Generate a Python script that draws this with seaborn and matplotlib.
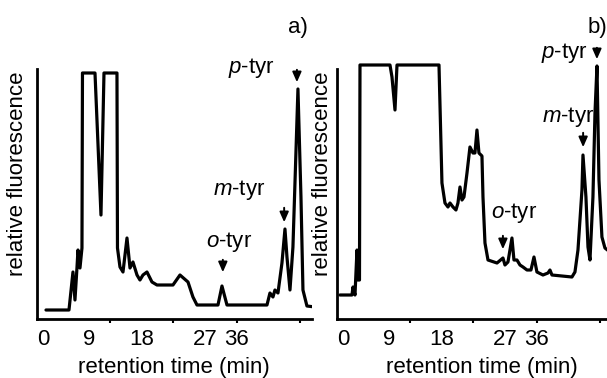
import numpy as np
import pandas as pd
import matplotlib
matplotlib.use("Agg")
import matplotlib.pyplot as plt
import seaborn as sns

# ---- data (time in min, relative fluorescence 0-100) ----
t_a = [0.59, 5.09, 5.87, 6.26, 6.65, 6.85, 7.24, 7.63, 7.73, 10.18, 11.35, 11.94, 14.48,
       14.58, 15.07, 15.66, 16.44, 17.03, 17.61, 18.40, 18.98, 19.57, 20.35, 21.33, 22.31,
       25.44, 26.81, 28.38, 29.35, 30.14, 34.25, 35.03, 36.01, 43.84, 44.42, 45.01, 45.40,
       45.99, 46.77, 47.36, 47.75, 48.34, 48.92, 49.90, 50.49, 50.88, 51.66, 53.23]
f_a = [3.6, 3.6, 18.8, 7.6, 20.4, 27.6, 20.4, 28.4, 98.4, 98.4, 41.6, 98.4, 98.4,
       28.4, 20.8, 18.8, 32.4, 20.4, 22.8, 17.6, 15.6, 17.6, 18.8, 14.8, 13.6,
       13.6, 17.6, 14.8, 8.8, 5.6, 5.6, 13.2, 5.6, 5.6, 10.4, 8.8, 11.6,
       10.4, 22.4, 36.0, 24.8, 11.6, 28.8, 92.0, 48.8, 11.6, 5.2, 4.8]

t_b = [-0.59, 1.76, 1.96, 2.35, 2.74, 2.94, 3.23, 3.33, 9.20, 9.59, 10.18, 10.57, 18.79,
       19.37, 19.96, 20.55, 20.94, 21.53, 22.11, 22.50, 22.90, 23.29, 23.68, 24.27, 24.85,
       25.44, 25.83, 26.22, 26.61, 27.20, 27.40, 27.79, 28.38, 30.14, 31.31, 31.70, 32.29,
       33.07, 33.46, 34.05, 34.64, 35.23, 36.01, 36.79, 37.38, 37.96, 39.14, 40.12, 40.51,
       40.90, 44.81, 45.40, 45.99, 46.77, 46.97, 47.55, 47.95, 48.34, 48.92, 49.32, 49.71,
       50.10, 50.68, 51.27, 52.25]
f_b = [9.6, 9.6, 12.8, 9.6, 27.6, 15.6, 15.6, 101.6, 101.6, 96.8, 83.6, 101.6, 101.6,
       54.4, 46.4, 44.8, 46.4, 44.8, 43.6, 46.4, 52.8, 47.6, 48.8, 58.4, 68.8,
       66.4, 66.4, 75.6, 66.4, 65.2, 48.8, 30.4, 23.6, 22.4, 24.4, 21.6, 22.8,
       32.4, 23.6, 23.6, 21.6, 20.8, 19.6, 19.6, 24.8, 18.8, 17.6, 18.4, 19.6,
       17.6, 16.8, 18.8, 27.6, 51.6, 65.6, 48.8, 28.8, 23.6, 48.8, 82.4, 101.2,
       55.6, 32.8, 28.4, 26.8]

tick_labels = ["0", "9", "18", "27", "36"]
tick_pos = [0, 9.0, 19.37, 31.7, 37.96]
minor_pos = [13.1, 25.4, 38.0, 50.3]

peak_names = ["$o$-tyr", "$m$-tyr", "$p$-tyr"]
# arrow x, tail y, tip y ; label x, label y
arrows_a = [(35.2, 24.8, 17.6), (47.2, 45.6, 37.6), (49.7, 100.8, 93.6)]
labels_a = [(36.4, 30.8), (38.4, 51.6), (40.7, 100.4)]
arrows_b = [(31.3, 34.4, 26.8), (47.0, 75.6, 67.6), (49.7, 109.6, 102.8)]
labels_b = [(33.5, 42.4), (44.0, 80.8), (43.4, 106.4)]

sns.set_theme(style="white")
plt.rcParams["font.family"] = ["Liberation Sans", "DejaVu Sans"]
plt.rcParams["mathtext.fontset"] = "custom"
plt.rcParams["mathtext.it"] = "Liberation Sans:italic"
plt.rcParams["mathtext.rm"] = "Liberation Sans"
plt.rcParams["text.color"] = "black"
plt.rcParams["axes.labelcolor"] = "black"
plt.rcParams["xtick.color"] = "black"

FS = 16
fig = plt.figure(figsize=(6.07, 3.78), dpi=100)
ax_a = fig.add_axes([37 / 607, 59 / 378, 275 / 607, 260 / 378])
ax_b = fig.add_axes([337 / 607, 59 / 378, 275 / 607, 260 / 378])

panels = [
    (ax_a, t_a, f_a, arrows_a, labels_a, "a)", -0.033, 0.498),
    (ax_b, t_b, f_b, arrows_b, labels_b, "b)", -0.015, 0.527),
]
for ax, t, f, arr, lab, tag, ylab_x, xlab_x in panels:
    df = pd.DataFrame({"time": t, "fluor": f})
    sns.lineplot(data=df, x="time", y="fluor", ax=ax, color="black", lw=2.3,
                 estimator=None, sort=False)
    ax.set_xlim(-1.17, 52.65)
    ax.set_ylim(0, 104)
    ax.patch.set_alpha(0)
    for s in ["top", "right"]:
        ax.spines[s].set_visible(False)
    for s in ["left", "bottom"]:
        ax.spines[s].set_color("black")
        ax.spines[s].set_linewidth(2.0)
    ax.spines["left"].set_bounds(0, 100)
    ax.set_yticks([])
    ax.set_xticks(tick_pos)
    ax.set_xticklabels(tick_labels, fontsize=FS)
    ax.set_xticks(minor_pos, minor=True)
    ax.tick_params(axis="x", which="major", length=0, pad=7)
    ax.tick_params(axis="x", which="minor", length=3, width=1.5, direction="out",
                   bottom=True)
    ax.set_xlabel("retention time (min)", fontsize=FS)
    ax.set_ylabel("relative fluorescence", fontsize=FS)
    ax.xaxis.set_label_coords(xlab_x, -0.145)
    ax.yaxis.set_label_coords(ylab_x, 0.56)
    for name, (ax_x, y0, y1), (lx, ly) in zip(peak_names, arr, lab):
        ax.annotate("", xy=(ax_x, y1), xytext=(ax_x, y0), annotation_clip=False,
                    arrowprops=dict(arrowstyle="-|>,head_length=0.5,head_width=0.22",
                                    color="black", lw=1.4))
        ax.text(lx, ly, name, fontsize=FS, ha="center", va="center", clip_on=False)
    ax.text(49.8, 116.5, tag, fontsize=FS, ha="center", va="center", clip_on=False)

fig.savefig("out.png", dpi=100)
